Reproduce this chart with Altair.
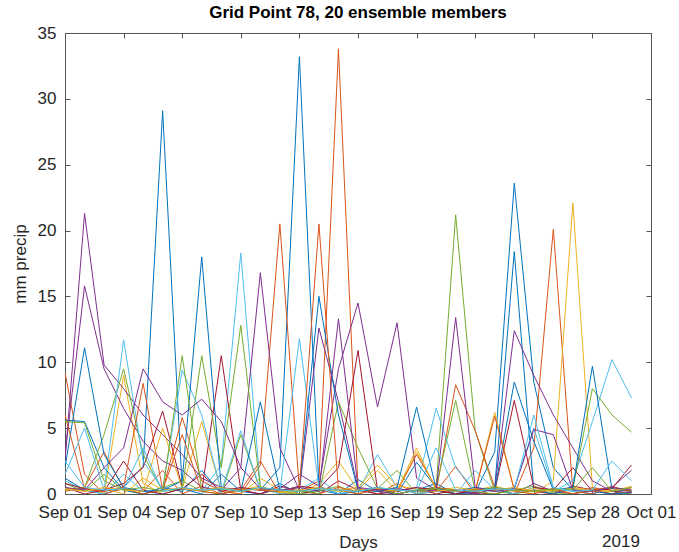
import altair as alt
import pandas as pd

# Day index 0 = Sep 01 ... 29 = Sep 30
days = list(range(30))
tick_values = [0, 3, 6, 9, 12, 15, 18, 21, 24, 27, 30]
tick_labels = ["Sep 01", "Sep 04", "Sep 07", "Sep 10", "Sep 13", "Sep 16",
               "Sep 19", "Sep 22", "Sep 25", "Sep 28", "Oct 01"]
y_ticks = [0, 5, 10, 15, 20, 25, 30, 35]

m01 = [1.2, 0.3, 0, 0.5, 2.1, 29.1, 0.4, 0, 1.5, 0.2, 0, 0.8, 0, 0.3, 0, 1.1, 0.2, 0, 2.4, 0.5, 0, 0.1, 3.2, 23.6, 8.5, 2.0, 0.3, 0, 0.5, 0.2]
m02 = [9.2, 1.5, 0, 0.4, 0.2, 1.8, 0, 0.6, 0, 0.3, 2.5, 0, 0.2, 1.0, 33.8, 0.5, 0, 0.8, 0, 0.2, 2.1, 0, 0.4, 0, 3.5, 20.1, 0.2, 0, 0.6, 0.1]
m03 = [0.3, 0.5, 0, 9.0, 0.8, 0, 0.4, 5.5, 0.2, 0, 1.2, 0.3, 0, 0.8, 2.5, 0.3, 1.8, 0.2, 3.2, 0.4, 0, 0.2, 6.2, 0.3, 0, 1.0, 22.1, 0.5, 0, 0.2]
m04 = [2.5, 21.3, 9.8, 8.0, 6.0, 4.5, 3.0, 1.2, 0.5, 0.3, 0, 0.4, 1.5, 0.6, 9.5, 14.5, 6.6, 13.0, 1.2, 0.3, 0, 0.2, 0.4, 0, 0.8, 0.2, 0, 0.3, 0.5, 1.8]
m05 = [0.8, 0.2, 1.5, 0.3, 0, 0.5, 1.0, 0.2, 0, 4.5, 0.3, 0.1, 0, 0.2, 0.6, 0, 0.4, 1.8, 0, 0.5, 21.2, 4.8, 0.2, 0, 0.3, 0.1, 0, 0.4, 0.2, 0]
m06 = [1.0, 0.3, 0, 1.5, 0.2, 0, 0.4, 0.2, 2.2, 18.3, 0.5, 0, 0.3, 1.2, 0, 0.2, 3.0, 0.5, 0, 0.2, 0, 1.8, 0.3, 0, 0.5, 0.2, 1.0, 5.5, 10.2, 7.3]
m07 = [0.5, 0, 0.3, 0.8, 2.0, 6.3, 0.5, 0.2, 10.5, 0.3, 0, 0.6, 0.2, 0, 1.0, 0.3, 0, 0.2, 0.5, 0, 0.3, 0.1, 0, 0.4, 0.2, 0, 0.6, 0.3, 0, 0.5]
m08 = [5.6, 5.5, 2.0, 0.3, 0, 0.5, 0.2, 1.8, 0, 0.4, 0.3, 2.0, 33.2, 0.6, 0, 0.2, 0.5, 0, 0.3, 0.8, 0, 0.2, 0.5, 18.4, 0.3, 0, 0.4, 0.2, 0, 0.1]
m09 = [0.2, 0.5, 3.2, 0.4, 0, 0.3, 5.8, 1.0, 0.2, 0, 2.2, 20.5, 0.3, 0, 0.5, 0.2, 0.4, 0, 0.3, 0.2, 8.3, 4.8, 0.5, 0.2, 0, 0.4, 0, 0.5, 0.2, 0.3]
m10 = [0.5, 0.2, 0.4, 0, 1.2, 0.3, 0.5, 0.2, 0.4, 0.3, 0.6, 0.1, 0.2, 0.4, 0.3, 0.5, 2.2, 0.6, 0.4, 0.2, 0.5, 0.3, 0.6, 0.2, 0.4, 0.2, 0.5, 0.3, 0.2, 0.6]
m11 = [3.0, 15.8, 9.5, 6.5, 4.0, 2.5, 1.8, 0.5, 0.3, 2.0, 16.8, 3.5, 0.3, 12.6, 7.0, 0.4, 0.2, 0, 0.3, 0.5, 0.2, 0, 0.4, 12.4, 9.0, 6.0, 3.5, 1.0, 0.2, 0.1]
m12 = [0.3, 0.5, 4.5, 9.5, 3.0, 0.2, 0.4, 10.5, 2.0, 12.8, 0.5, 0.2, 0.3, 0, 7.0, 3.5, 0.4, 0, 0.3, 0.5, 7.1, 0.2, 0, 0.3, 0.6, 0.2, 0.4, 8.0, 6.0, 4.7]
m13 = [1.5, 5.0, 0.3, 11.7, 2.5, 0.4, 9.4, 6.0, 0.2, 4.8, 0.3, 0.2, 11.8, 0.5, 0, 0.3, 0.4, 0.2, 0.5, 6.5, 2.0, 0.3, 0.2, 0.5, 5.0, 0.4, 0.2, 0.3, 0.5, 0.2]
m14 = [0.8, 0.4, 0.2, 2.5, 0.3, 0, 0.4, 1.5, 0.2, 0.5, 0.3, 0.2, 0.6, 0.4, 2.0, 10.9, 0.3, 0.2, 0.5, 0.3, 0, 0.4, 0.2, 7.1, 0.5, 0.3, 2.0, 0.2, 0.4, 2.2]
m15 = [2.0, 11.1, 3.0, 0.5, 0.2, 0.3, 1.0, 18.0, 0.5, 0.2, 7.0, 0.3, 0.5, 15.0, 6.0, 0.3, 0.2, 0.5, 6.6, 0.4, 0.2, 0.5, 0.3, 8.5, 4.0, 0.3, 0.5, 9.7, 0.4, 0.2]
m16 = [6.0, 0.4, 0.2, 0.5, 8.4, 0.3, 4.5, 0.2, 0, 0.4, 0.3, 0.2, 0.5, 20.5, 0.3, 0, 0.4, 0.2, 3.0, 0.5, 0.3, 0.2, 5.9, 0.3, 0.2, 0.4, 0, 0.3, 0.5, 0.2]
m17 = [0.4, 0.2, 0.5, 0.3, 0.2, 5.0, 0.4, 0.3, 0.5, 0.2, 0.4, 0.2, 0.3, 0.5, 0.2, 0.3, 0.4, 0.2, 3.5, 0.3, 0.2, 0.4, 0.3, 0.5, 0.2, 0.3, 0.4, 0.2, 0.3, 0.4]
m18 = [0.5, 0.3, 2.0, 3.5, 9.5, 7.0, 6.0, 7.2, 5.5, 2.0, 0.4, 0.3, 0.5, 0.2, 13.3, 0.5, 0.3, 0.4, 0.2, 0.3, 13.4, 0.5, 0.2, 0.4, 4.9, 4.5, 0.3, 0.2, 0.5, 0.3]
m19 = [5.5, 5.4, 1.0, 0.3, 0.5, 0.2, 10.5, 0.3, 0.4, 0.2, 0.5, 0.3, 0.2, 0.4, 0.3, 0.2, 0.5, 0.3, 0.2, 0.4, 0.3, 0.2, 0.5, 0.3, 0.2, 0.4, 0.3, 2.0, 0.2, 0.5]
m20 = [2.5, 0.5, 0.3, 0.4, 3.5, 0.2, 0.5, 0.3, 0.4, 0.2, 0.5, 0.3, 0.2, 0.4, 0.3, 0.2, 0.5, 0.3, 0.2, 3.5, 0.3, 0.2, 0.4, 0.3, 6.0, 0.5, 0.2, 0.3, 2.5, 1.0]

members = [m01, m02, m03, m04, m05, m06, m07, m08, m09, m10,
           m11, m12, m13, m14, m15, m16, m17, m18, m19, m20]
member_names = [f"m{i+1:02d}" for i in range(len(members))]
matlab_colors = ["#0072BD", "#D95319", "#EDB120", "#7E2F8E", "#77AC30", "#4DBEEE", "#A2142F"]
colors = [matlab_colors[i % 7] for i in range(len(members))]

rows = []
for name, vals in zip(member_names, members):
    for d, v in zip(days, vals):
        rows.append({"member": name, "day": d, "precip": v})
df = pd.DataFrame(rows)

label_expr = "[" + ",".join(f"'{t}'" for t in tick_labels) + "][round(datum.value/3)]"
FONT = "Liberation Sans"
AX = "#555555"
TXT = "#262626"
FS = 17

xscale = alt.Scale(domain=[0, 30], nice=False, zero=False)
yscale = alt.Scale(domain=[0, 35], nice=False)

common = dict(labelFont=FONT, titleFont=FONT, labelFontSize=FS, titleFontSize=FS,
              labelColor=TXT, titleColor=TXT, tickColor=AX, titleFontWeight="normal",
              offset=-5, tickSize=5, domain=False, grid=False)

lines = alt.Chart(df).mark_line(strokeWidth=1, clip=True).encode(
    x=alt.X("day:Q", scale=xscale,
            axis=alt.Axis(values=tick_values, labelExpr=label_expr, title="Days",
                          labelPadding=10, titlePadding=14, labelFlush=False, **common)),
    y=alt.Y("precip:Q", scale=yscale,
            axis=alt.Axis(values=y_ticks, title="mm precip",
                          labelPadding=9, titlePadding=8, **common)),
    color=alt.Color("member:N", scale=alt.Scale(domain=member_names, range=colors), legend=None),
    order=alt.Order("day:Q"),
)

frame = alt.Chart(df).mark_line(opacity=0).encode(
    x=alt.X("day:Q", scale=xscale,
            axis=alt.Axis(orient="top", values=tick_values, labels=False, title=None, **common)),
    y=alt.Y("precip:Q", scale=yscale,
            axis=alt.Axis(orient="right", values=y_ticks, labels=False, title=None, **common)),
    detail="member:N",
)

year = alt.Chart(pd.DataFrame({"t": ["2019"]})).mark_text(
    font=FONT, fontSize=FS, color=TXT, baseline="middle"
).encode(text="t:N", x=alt.value(556), y=alt.value(509))

chart = alt.layer(lines, frame, year).resolve_axis(
    x="independent", y="independent"
).properties(
    width=586, height=461,
    background="white",
    autosize=alt.AutoSizeParams(type="none"),
    padding={"left": 65, "top": 33, "right": 28, "bottom": 58},
    title=alt.TitleParams("Grid Point 78, 20 ensemble members", font=FONT, fontSize=FS,
                          fontWeight="bold", color="#000000", offset=2, anchor="middle"),
).configure_view(stroke=AX, strokeWidth=1)

chart.save("out.html", embed_options={"renderer": "svg", "actions": False})
